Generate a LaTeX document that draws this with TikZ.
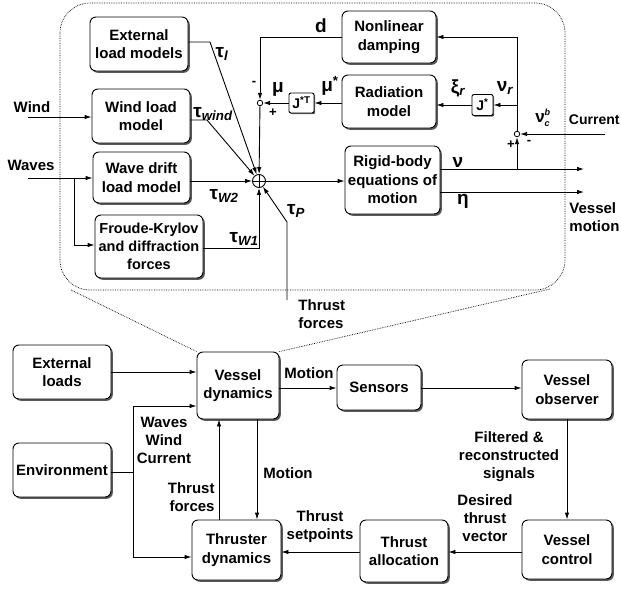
\documentclass[tikz,border=0pt]{standalone}
\usepackage{fontspec}
\setmainfont{Liberation Sans}
\usetikzlibrary{arrows.meta,shadows}
\newcommand\lsub[1]{\textsubscript{\itshape\bfseries #1}}
\newcommand\lsup[1]{\textsuperscript{\bfseries #1}}
\begin{document}
\begin{tikzpicture}[x=1pt,y=-1pt, line width=0.9pt, >={Latex[length=7pt,width=4.5pt]},
  box/.style={draw, rounded corners=6pt, fill=white, align=center, inner sep=0pt,
     drop shadow={shadow xshift=1.8pt, shadow yshift=-1.8pt, fill=black!65, opacity=1},
     font=\bfseries\fontsize{15}{18.5}\selectfont},
  lbl/.style={font=\bfseries\fontsize{15}{18}\selectfont, align=center, inner sep=0pt},
  gk/.style={font=\bfseries\fontsize{19}{19}\selectfont, inner sep=0pt},
  sgn/.style={font=\bfseries\fontsize{13}{13}\selectfont, inner sep=0pt},
  jbox/.style={draw, rounded corners=2pt, fill=white, inner sep=0pt,
     drop shadow={shadow xshift=1.2pt, shadow yshift=-1.2pt, fill=black!65, opacity=1},
     font=\bfseries\fontsize{14}{14}\selectfont},
  junc/.style={draw, circle, fill=white, inner sep=0pt, minimum size=5.5pt, line width=0.8pt},
  lens/.style={densely dotted, line width=0.7pt}]
\useasboundingbox (0,0) rectangle (621,589);

% zoom lens frame
\draw[lens, rounded corners=30pt] (60,3) rectangle (565,290);

% ---------- upper diagram ----------
\node[box, minimum width=98pt, minimum height=54pt] (ext) at (139,44) {External\\load models};
\node[box, minimum width=98pt, minimum height=54pt] (wind) at (141,116) {Wind load\\model};
\node[box, minimum width=97pt, minimum height=51pt] (drift) at (141.5,177.5) {Wave drift\\load model};
\node[box, minimum width=108pt, minimum height=63pt, font=\bfseries\fontsize{14.5}{18}\selectfont] (froude) at (149,246.5) {Froude-Krylov\\and diffraction\\forces};
\node[box, minimum width=94pt, minimum height=52pt] (nld) at (389,37) {Nonlinear\\damping};
\node[box, minimum width=94pt, minimum height=53pt] (rad) at (389,101.5) {Radiation\\model};
\node[box, minimum width=95pt, minimum height=68pt] (rigid) at (392.5,180) {Rigid-body\\equations of\\motion};
\node[jbox, minimum width=25pt, minimum height=20pt] (JT) at (301.5,103) {J\lsup{*T}};
\node[jbox, minimum width=21pt, minimum height=21pt] (Js) at (482.5,105) {J\lsup{*}};

\node[draw, circle, fill=white, inner sep=0pt, minimum size=13pt] (sum) at (259,181) {};
\draw (sum.north) -- (sum.south) (sum.west) -- (sum.east);
\node[junc] (mu) at (260,103) {};
\node[junc] (cur) at (517,134) {};

% inputs
\coordinate (windin) at (28,117);
\coordinate (wavein) at (28,178);
\coordinate (wsplit) at (74,178);
\draw[->] (windin) -- (wind.west |- windin);
\draw[->] (wavein) -- (drift.west |- wavein);
\draw[->] (wsplit) |- (froude.west |- 0,245);
\node[lbl] (lwind) at (32,107) {Wind};
\node[lbl] (lwaves) at (31,165) {Waves};

% to summation
\coordinate (tl) at (210,42);
\coordinate (tw) at (207,120);
\coordinate (tp) at (287,222);
\coordinate (tpb) at (287,300);
\draw[->] (ext.east |- tl) -- (tl) -- (sum);
\draw[->] (wind.east |- tw) -- (tw) -- (sum);
\draw[->] (drift.east |- sum) -- (sum);
\draw[->] (froude.east |- 0,248) -| (sum);
\draw[->] (tpb) -- (tp) -- (sum);
\draw[->] (mu) -- (sum);
\draw[->] (sum) -- (rigid.west |- sum);

\node[gk] (ltl) at (222,54) {τ\lsub{l}};
\node[gk] (ltw) at (213,114) {τ\lsub{wind}};
\node[gk] (ltw2) at (224,196) {τ\lsub{W2}};
\node[gk] (ltw1) at (244,239) {τ\lsub{W1}};
\node[gk] (ltp) at (296,211) {τ\lsub{P}};

% feedback
\draw[->] (nld.west) -| (mu);
\draw[->] (JT) -- (mu);
\draw[->] (rad.west |- JT) -- (JT);
\draw[->] (Js) -- (rad.east |- Js);
\coordinate (nub) at (517,169);
\coordinate (nutop) at (517,37);
\coordinate (nuj) at (517,105);
\draw[->] (nub) -- (cur);
\draw[->] (cur) -- (nutop) -- (nld.east);
\draw[->] (nuj) -- (Js);
\coordinate (curin) at (605,134);
\draw[->] (curin) -- (cur);

\node[sgn] (m1) at (254,83) {-};
\node[sgn] (p1) at (273,113) {+};
\node[gk] (lmu) at (278,89) {μ};
\node[gk] (lmus) at (330,86) {μ\textsuperscript{*}};
\node[gk] (ld) at (321,26) {d};
\node[gk] (lxi) at (458,88) {ξ\lsub{r}};
\node[gk] (lnur) at (505,88) {ν\lsub{r}};
\node[gk, font=\bfseries\fontsize{17}{17}\selectfont] (lvc) at (543,118) {ν$^{\mbox{\fontsize{9}{9}\selectfont\bfseries\itshape b}}_{\mbox{\fontsize{9}{9}\selectfont\bfseries\itshape c}}$};
\node[lbl, anchor=east, font=\bfseries\fontsize{14}{17}\selectfont] (lcur) at (620,120) {Current};
\node[sgn] (p2) at (511,145) {+};
\node[sgn] (m2) at (529,142) {-};

% outputs
\coordinate (nuend) at (584,169);
\coordinate (etaend) at (584,192);
\draw[->] (rigid.east |- nub) -- (nuend);
\draw[->] (rigid.east |- etaend) -- (etaend);
\node[gk] (lnu) at (458,162) {ν};
\node[gk] (leta) at (463,201) {η};
\node[lbl, align=left, anchor=west] (lvm) at (569,217) {Vessel\\motion};
\node[lbl, align=left, anchor=west] (lthf) at (298,314) {Thrust\\forces};

% ---------- lower diagram ----------
\node[box, minimum width=98pt, minimum height=54pt] (extl) at (62,372) {External\\loads};
\node[box, minimum width=98pt, minimum height=54pt] (env) at (62,470) {Environment};
\node[box, minimum width=82pt, minimum height=67pt] (vd) at (238,385.5) {Vessel\\dynamics};
\node[box, minimum width=89pt, minimum height=60pt] (td) at (236.5,550) {Thruster\\dynamics};
\node[box, minimum width=84pt, minimum height=45pt] (sens) at (379,387.5) {Sensors};
\node[box, minimum width=90pt, minimum height=59pt] (obs) at (567,389.5) {Vessel\\observer};
\node[box, minimum width=90pt, minimum height=59pt] (ctrl) at (567,549.5) {Vessel\\control};
\node[box, minimum width=88pt, minimum height=62pt] (alloc) at (404,551) {Thrust\\allocation};

% lens lines
\coordinate (lensl) at (71,290);
\coordinate (lensr) at (550,289);
\draw[lens] (lensl) -- (vd.north west);
\draw[lens] (lensr) -- (vd.north east);

\draw[->] (extl.east) -- (vd.west |- extl.east);
\coordinate (envx) at (133,472);
\draw (env.east |- envx) -- (envx);
\draw[->] (envx) |- (vd.west |- 0,406);
\draw[->] (envx) |- (td.west |- 0,557);
\draw[->] (vd.east |- 0,388) -- (sens.west |- 0,388);
\draw[->] (sens.east |- 0,388) -- (obs.west |- 0,388);
\draw[->] (obs.south) -- (ctrl.north);
\draw[->] (ctrl.west |- 0,552) -- (alloc.east |- 0,552);
\draw[->] (alloc.west |- 0,552) -- (td.east |- 0,552);
\draw[->] (td.north -| 219,0) -- (vd.south -| 219,0);
\draw[->] (vd.south -| 257,0) -- (td.north -| 257,0);

\node[lbl] (lm1) at (309,373) {Motion};
\node[lbl] (lwwc) at (164,440) {Waves\\Wind\\Current};
\node[lbl, anchor=west] (lm2) at (263,473) {Motion};
\node[lbl, align=right, anchor=east] (ltf) at (215,497) {Thrust\\forces};
\node[lbl] (lts) at (320,527) {Thrust\\setpoints};
\node[lbl] (ldtv) at (485,518) {Desired\\thrust\\vector};
\node[lbl] (lfrs) at (509,457) {Filtered \&\\reconstructed\\signals};
\end{tikzpicture}
\end{document}
